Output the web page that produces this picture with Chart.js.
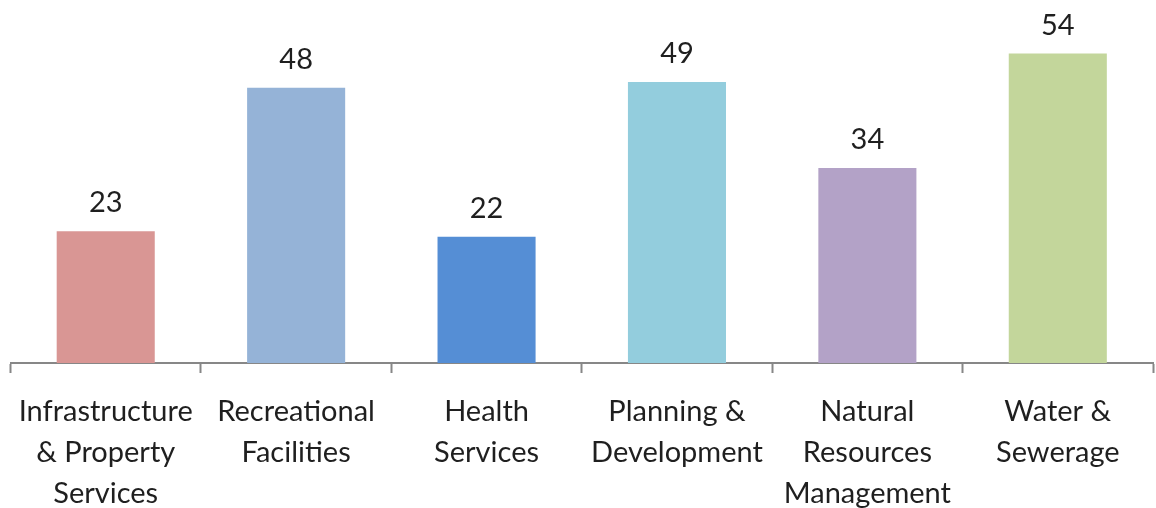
<!DOCTYPE html>
<html>
<head>
<meta charset="utf-8">
<script src="https://cdn.jsdelivr.net/npm/chart.js@4.4.0/dist/chart.umd.min.js"></script>
<style>
  html, body { margin: 0; padding: 0; background: #fff; }
  #wrap { width: 1156px; height: 508px; }
</style>
</head>
<body>
<div id="wrap"><canvas id="c"></canvas></div>
<script>
// ── DATA ──────────────────────────────────────────────────────────
const CATEGORIES = [
  ['Infrastructure', '& Property', 'Services'],
  ['Recreational', 'Facilities'],
  ['Health', 'Services'],
  ['Planning &', 'Development'],
  ['Natural', 'Resources', 'Management'],
  ['Water &', 'Sewerage'],
];
const VALUES = [23, 48, 22, 49, 34, 54];
const BAR_COLORS = ['#d99694', '#95b3d7', '#558ed5', '#93cddd', '#b3a2c7', '#c3d69b'];

const FONT = { family: "Lato, 'Open Sans', sans-serif", size: 29 };
const TEXT = '#1f1f1f';
const AXIS = '#878787';

// value labels above bars
const valueLabels = {
  id: 'valueLabels',
  afterDatasetsDraw(chart) {
    const ctx = chart.ctx;
    const meta = chart.getDatasetMeta(0);
    ctx.save();
    ctx.font = `${FONT.size}px ${FONT.family}`;
    ctx.fillStyle = TEXT;
    ctx.textAlign = 'center';
    ctx.textBaseline = 'middle';
    meta.data.forEach((bar, i) => {
      ctx.fillText(String(VALUES[i]), bar.x, bar.y - 28);
    });
    ctx.restore();
  }
};

new Chart(document.getElementById('c'), {
  type: 'bar',
  data: {
    labels: CATEGORIES,
    datasets: [{
      data: VALUES,
      backgroundColor: BAR_COLORS,
      borderWidth: 0,
      categoryPercentage: 1,
      barPercentage: 0.515,
    }]
  },
  options: {
    responsive: true,
    maintainAspectRatio: false,
    animation: false,
    layout: { padding: { left: 8, right: 3, top: 19, bottom: 0 } },
    plugins: { legend: { display: false }, tooltip: { enabled: false } },
    scales: {
      y: { display: false, min: 0, max: 60 },
      x: {
        border: { display: true, color: AXIS, width: 2 },
        grid: { display: true, drawOnChartArea: false, drawTicks: true, tickLength: 10, tickWidth: 2, tickColor: AXIS, color: AXIS },
        ticks: { color: TEXT, font: { ...FONT, lineHeight: '41px' }, padding: 18, maxRotation: 0, autoSkip: false },
        afterFit: (scale) => { scale.height = 145; }
      }
    }
  },
  plugins: [valueLabels]
});
</script>
</body>
</html>
